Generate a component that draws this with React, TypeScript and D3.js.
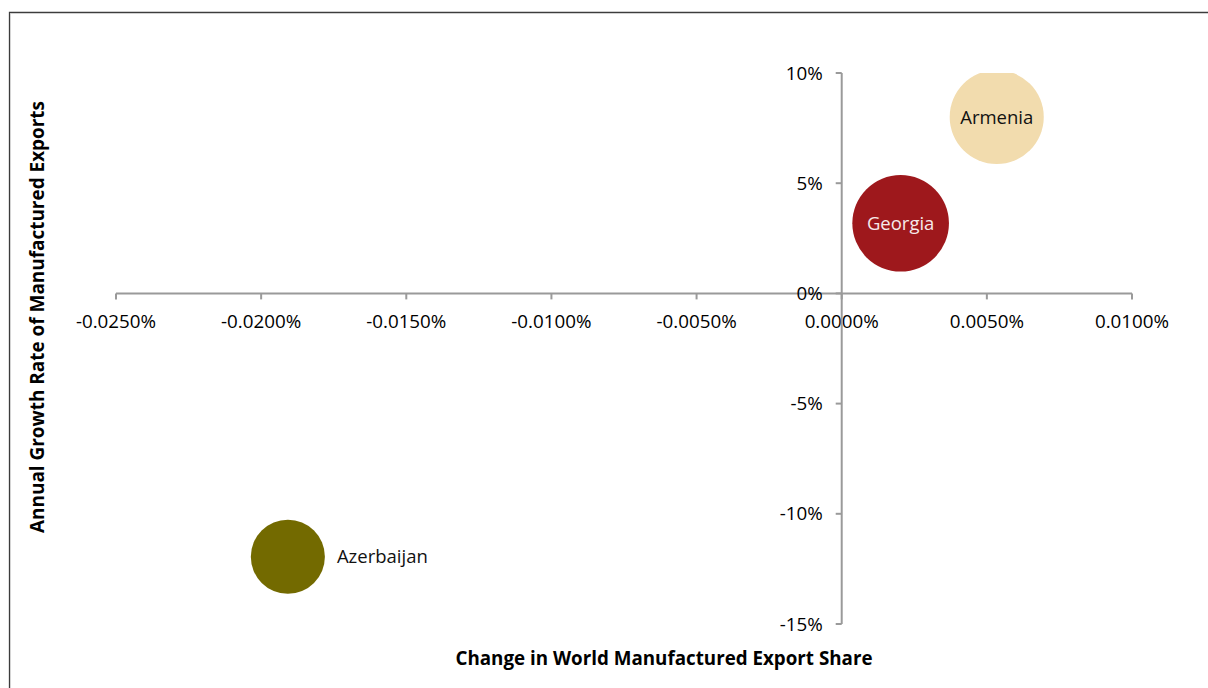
import React from "react";
import * as d3 from "d3";

const countries = ["Armenia", "Georgia", "Azerbaijan"];
const shareChange = [0.00534, 0.00203, -0.01908]; // % points
const exportGrowth = [8.0, 3.18, -11.95]; // %
const bubbleSize = [221, 233, 137];
const bubbleColors = ["#F2DCAE", "#9E181C", "#736A00"];
const labelColors = ["#111111", "#F6EAEA", "#111111"];
const labelInside = [true, true, false];

const xTickValues = [-0.025, -0.02, -0.015, -0.01, -0.005, 0, 0.005, 0.01];
const xTickLabels = ["-0.0250%", "-0.0200%", "-0.0150%", "-0.0100%", "-0.0050%", "0.0000%", "0.0050%", "0.0100%"];
const yTickValues = [10, 5, 0, -5, -10, -15];
const yTickLabels = ["10%", "5%", "0%", "-5%", "-10%", "-15%"];

const xTitle = "Change in World Manufactured Export Share";
const yTitle = "Annual Growth Rate of Manufactured Exports";

const W = 1208;
const H = 688;
const FONT = "'Open Sans', 'Noto Sans', sans-serif";

export default function App() {
  const x = d3.scaleLinear().domain([-0.025, 0.01]).range([116, 1132]);
  const y = d3.scaleLinear().domain([-15, 10]).range([624, 73]);
  const r = d3.scaleSqrt().domain([0, d3.max(bubbleSize) as number]).range([0, 48.3]);
  const axisColor = "#9a9a9a";
  const x0 = x(0);
  const y0 = y(0);

  return (
    <div style={{ position: "absolute", left: 0, top: 0, width: W, height: H, background: "#fff" }}>
      <svg width={W} height={H} style={{ display: "block" }} fontFamily={FONT}>
        <defs>
          <clipPath id="plotClip">
            <rect x={x.range()[0]} y={y.range()[1]} width={x.range()[1] - x.range()[0]} height={y.range()[0] - y.range()[1]} />
          </clipPath>
        </defs>
        <rect x={0} y={0} width={W} height={H} fill="#fff" />
        {/* frame */}
        <path d={`M9.5,${H + 5} L9.5,12.5 L${W + 5},12.5`} fill="none" stroke="#3c3c3c" strokeWidth={1.3} />
        <path d={`M10.5,${H + 5} L10.5,13.5 L${W + 5},13.5`} fill="none" stroke="#d0d0d0" strokeWidth={0.8} />

        {/* x axis */}
        <line x1={x.range()[0]} x2={x.range()[1]} y1={y0} y2={y0} stroke={axisColor} strokeWidth={2} />
        {xTickValues.map((v, i) => (
          <g key={"xt" + i}>
            <line x1={x(v)} x2={x(v)} y1={y0} y2={y0 + 6} stroke={axisColor} strokeWidth={2} />
            <text x={x(v)} y={y0 + 35} textAnchor="middle" fontSize={18.8} fill="#000">
              {xTickLabels[i]}
            </text>
          </g>
        ))}

        {/* y axis */}
        <line x1={x0} x2={x0} y1={y.range()[1]} y2={y.range()[0]} stroke={axisColor} strokeWidth={2} />
        {yTickValues.map((v, i) => (
          <g key={"yt" + i}>
            <line x1={x0 - 6} x2={x0} y1={y(v)} y2={y(v)} stroke={axisColor} strokeWidth={2} />
            <text x={x0 - 19} y={y(v)} dy="0.35em" textAnchor="end" fontSize={18.8} fill="#000">
              {yTickLabels[i]}
            </text>
          </g>
        ))}

        {/* bubbles */}
        <g clipPath="url(#plotClip)">
          {countries.map((c, i) => (
            <circle key={c} cx={x(shareChange[i])} cy={y(exportGrowth[i])} r={r(bubbleSize[i])} fill={bubbleColors[i]} />
          ))}
        </g>
        {countries.map((c, i) => {
          const cx = x(shareChange[i]);
          const cy = y(exportGrowth[i]);
          const rr = r(bubbleSize[i]);
          return (
            <text
              key={"l" + c}
              x={labelInside[i] ? cx : cx + rr + 12}
              y={cy}
              dy="0.35em"
              textAnchor={labelInside[i] ? "middle" : "start"}
              fontSize={18.5}
              fill={labelColors[i]}
            >
              {c}
            </text>
          );
        })}

        {/* axis titles */}
        <text x={664} y={665} textAnchor="middle" fontSize={20} fontWeight="bold" fill="#000" textLength={417} lengthAdjust="spacingAndGlyphs">
          {xTitle}
        </text>
        <text
          transform={`translate(44,317) rotate(-90)`}
          textAnchor="middle"
          fontSize={20}
          fontWeight="bold"
          fill="#000"
          textLength={432}
          lengthAdjust="spacingAndGlyphs"
        >
          {yTitle}
        </text>
      </svg>
    </div>
  );
}
